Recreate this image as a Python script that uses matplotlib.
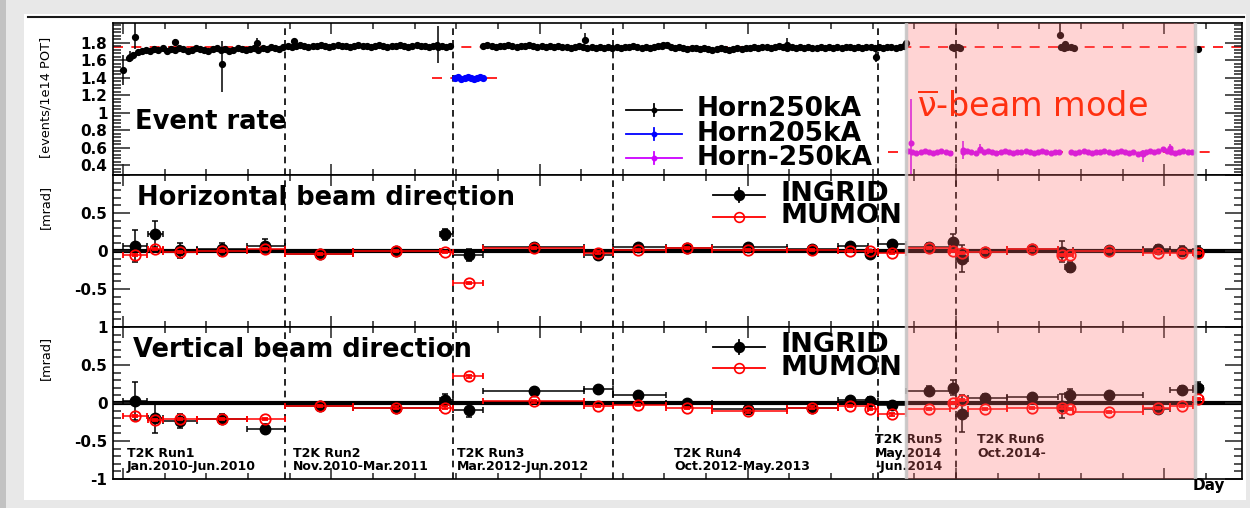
import numpy as np
import matplotlib
matplotlib.use("Agg")
import matplotlib.pyplot as plt
from matplotlib.patches import Rectangle
from matplotlib.lines import Line2D
from matplotlib.ticker import MultipleLocator, FixedLocator, FuncFormatter

plt.rcParams['font.family'] = ['DejaVu Sans']
plt.rcParams['font.weight'] = 'bold'

W, H = 1250, 508

# accumulated beam days on the x axis
day_min, day_max = -4.8, 537.3
run_edges = [77.8, 158.5, 235.3, 362.5, 400.0]
anti_start, anti_end = 376.0, 514.8

# ---- event rate [events/1e14 POT], one point every 2 days ----
run1_start = 3.0
run1_rate = [1.62, 1.66, 1.69, 1.71, 1.72, 1.70, 1.73, 1.72, 1.74, 1.71,
             1.73, 1.72, 1.74, 1.73, 1.71, 1.72, 1.74, 1.73, 1.72, 1.71,
             1.73, 1.74, 1.72, 1.73, 1.71, 1.72, 1.74, 1.73, 1.72, 1.73,
             1.74, 1.72, 1.74, 1.73, 1.75, 1.74, 1.73, 1.75]
run2_start = 79.0
run2_rate = [1.76, 1.75, 1.76, 1.77, 1.76, 1.75, 1.76, 1.76, 1.77, 1.76,
             1.75, 1.76, 1.77, 1.76, 1.76, 1.75, 1.76, 1.77, 1.76, 1.76,
             1.75, 1.76, 1.77, 1.76, 1.75, 1.76, 1.76, 1.77, 1.76, 1.75,
             1.76, 1.77, 1.76, 1.76, 1.75, 1.76, 1.77, 1.76, 1.75, 1.76]
run3_start = 173.0
run3_rate = [1.76, 1.77, 1.76, 1.75, 1.76, 1.76, 1.77, 1.76, 1.75, 1.76,
             1.76, 1.77, 1.76, 1.75, 1.76, 1.75, 1.76, 1.75, 1.76, 1.75,
             1.75, 1.74, 1.75, 1.76, 1.75, 1.74, 1.75, 1.74, 1.75, 1.74,
             1.75, 1.74]
run4_start = 237.0
run4_rate = [1.75, 1.74, 1.75, 1.75, 1.76, 1.75, 1.74, 1.75, 1.74, 1.75,
             1.76, 1.76, 1.77, 1.75, 1.74, 1.75, 1.74, 1.73, 1.74, 1.74,
             1.73, 1.74, 1.73, 1.72, 1.73, 1.74, 1.73, 1.72, 1.73, 1.74,
             1.73, 1.74, 1.74, 1.75, 1.74, 1.75, 1.75, 1.74, 1.75, 1.76,
             1.75, 1.74, 1.75, 1.74, 1.75, 1.74, 1.75, 1.74, 1.74, 1.75,
             1.74, 1.75, 1.74, 1.75, 1.74, 1.75, 1.75, 1.74, 1.75, 1.74,
             1.75, 1.75, 1.74]
run5_start = 363.0
run5_rate = [1.75, 1.74, 1.75, 1.75, 1.74, 1.75, 1.76]
horn205_start = 159.5
horn205_rate = [1.40, 1.41, 1.39, 1.40, 1.41, 1.40, 1.38, 1.40, 1.41, 1.40]

# 250kA days inside the antineutrino period
anti250_day = [398.0, 399.0, 400.0, 401.0, 402.0, 450.5, 452.0, 453.5, 455.0, 456.5, 516.3]
anti250_rate = [1.745, 1.74, 1.745, 1.75, 1.74, 1.745, 1.74, 1.745, 1.75, 1.74, 1.73]

# 250kA points with larger errors
odd_day = [0.0, 3.4, 5.8, 25.0, 47.5, 64.3, 82.1, 151.3, 221.8, 259.3, 318.8, 361.6, 376.0, 449.9, 452.4]
odd_rate = [1.49, 1.64, 1.87, 1.81, 1.56, 1.80, 1.82, 1.75, 1.83, 1.77, 1.77, 1.64, 1.80, 1.89, 1.78]
odd_lo = [0.17, 0.06, 0.14, 0.03, 0.33, 0.03, 0.02, 0.18, 0.03, 0.02, 0.02, 0.06, 0.02, 0.04, 0.02]
odd_hi = [0.17, 0.06, 0.16, 0.03, 0.26, 0.05, 0.02, 0.24, 0.08, 0.02, 0.08, 0.08, 0.02, 0.14, 0.02]

# Horn -250kA, three stretches
m250_starts = [377.0, 403.4, 455.2]
m250_rate = [
    [0.56, 0.55, 0.54, 0.55, 0.56, 0.55, 0.54, 0.55, 0.56, 0.55, 0.54],
    [0.55, 0.56, 0.55, 0.54, 0.57, 0.55, 0.56, 0.55, 0.54, 0.55, 0.56, 0.55,
     0.54, 0.55, 0.55, 0.56, 0.55, 0.54, 0.55, 0.56, 0.55, 0.54, 0.55, 0.55],
    [0.55, 0.54, 0.55, 0.56, 0.55, 0.54, 0.55, 0.55, 0.56, 0.55, 0.54, 0.55,
     0.56, 0.55, 0.54, 0.55, 0.53, 0.54, 0.55, 0.56, 0.55, 0.56, 0.58, 0.56,
     0.55, 0.54, 0.55, 0.56, 0.55, 0.55],
]
m250_odd_day = [378.2, 403.4, 411.5, 489.8, 502.8]
m250_odd_rate = [0.65, 0.57, 0.58, 0.53, 0.60]
m250_odd_lo = [0.37, 0.10, 0.02, 0.10, 0.02]
m250_odd_hi = [0.50, 0.10, 0.06, 0.04, 0.04]

# nominal rates (value, first day, last day)
nominal_250 = (1.75, day_min, day_max)
nominal_205 = (1.40, 148.4, 182.5)
nominal_m250 = (0.55, 367.4, 524.5)

# ---- beam direction [mrad], per period ----
dir_day = [5.8, 15.4, 27.4, 47.5, 68.2, 94.6, 131.1, 154.6, 166.1, 197.4,
           228.1, 247.3, 270.8, 300.1, 330.9, 349.1, 358.7, 369.3, 387.0, 398.6,
           402.9, 413.9, 436.5, 451.0, 454.7, 473.5, 497.0, 508.5, 516.3]
dir_lo = [0.0, 12.0, 19.2, 35.5, 59.5, 77.8, 110.4, 152.2, 158.5, 172.9,
          221.4, 235.3, 260.7, 282.8, 318.8, 343.3, 357.7, 362.5, 376.0, 397.1,
          400.0, 405.8, 424.5, 449.0, 452.4, 456.0, 489.8, 502.8, 513.8]
dir_hi = [11.5, 19.2, 35.5, 59.5, 77.8, 110.4, 152.2, 158.5, 172.9, 221.4,
          235.3, 260.7, 282.8, 318.8, 343.3, 357.7, 362.5, 376.0, 397.1, 400.0,
          405.8, 424.5, 449.0, 452.4, 456.0, 489.8, 502.8, 513.8, 518.5]

h_ingrid = [0.06, 0.22, 0.01, 0.02, 0.07, -0.04, 0.00, 0.22, -0.05, 0.05,
            -0.05, 0.05, 0.04, 0.05, 0.02, 0.06, -0.04, 0.09, 0.05, 0.12,
            -0.10, -0.01, 0.03, -0.01, -0.21, 0.01, 0.03, 0.00, -0.01]
h_ingrid_err = [0.21, 0.17, 0.10, 0.08, 0.09, 0.03, 0.03, 0.07, 0.08, 0.03,
                0.04, 0.03, 0.03, 0.03, 0.03, 0.04, 0.05, 0.04, 0.06, 0.10,
                0.18, 0.04, 0.03, 0.14, 0.07, 0.03, 0.05, 0.06, 0.07]
h_mumon = [-0.05, 0.03, -0.01, 0.00, 0.03, -0.04, 0.00, -0.01, -0.42, 0.04,
           -0.02, 0.01, 0.04, 0.01, 0.01, 0.00, 0.00, -0.02, 0.04, 0.00,
           -0.03, -0.01, 0.02, -0.05, -0.05, 0.00, -0.02, -0.03, -0.03]

v_ingrid = [0.02, -0.20, -0.24, -0.21, -0.34, -0.04, -0.06, 0.04, -0.09, 0.16,
            0.19, 0.10, 0.00, -0.08, -0.07, 0.04, 0.03, -0.03, 0.16, 0.20,
            -0.14, 0.07, 0.08, -0.04, 0.10, 0.10, -0.08, 0.17, 0.20]
v_ingrid_err = [0.25, 0.20, 0.09, 0.07, 0.06, 0.03, 0.03, 0.08, 0.09, 0.03,
                0.03, 0.03, 0.03, 0.03, 0.03, 0.04, 0.05, 0.04, 0.06, 0.10,
                0.24, 0.05, 0.03, 0.16, 0.08, 0.03, 0.04, 0.05, 0.08]
v_mumon = [-0.17, -0.22, -0.21, -0.21, -0.21, -0.04, -0.06, -0.06, 0.35, 0.02,
           -0.04, -0.03, -0.07, -0.11, -0.06, -0.04, -0.08, -0.15, -0.08, 0.00,
           0.04, -0.08, -0.07, -0.06, -0.08, -0.12, -0.07, -0.04, 0.05]
mumon_err = 0.015

run_labels = [
    (1.9, 456.7, ["T2K Run1", "Jan.2010-Jun.2010"]),
    (81.6, 456.7, ["T2K Run2", "Nov.2010-Mar.2011"]),
    (160.4, 456.7, ["T2K Run3", "Mar.2012-Jun.2012"]),
    (264.6, 456.7, ["T2K Run4", "Oct.2012-May.2013"]),
    (361.1, 443.3, ["T2K Run5", "May.2014", "-Jun.2014"]),
    (410.1, 443.3, ["T2K Run6", "Oct.2014-"]),
]

m250_color = '#cc00ff'


def every2(start, vals, step=2.0):
    return start + step * np.arange(len(vals))


fig = plt.figure(figsize=(W / 100, H / 100), dpi=100, facecolor='#e8e8e8')
fig.patches.append(Rectangle((0, 0), 6 / W, 1, transform=fig.transFigure,
                             facecolor='#c2c2c2', edgecolor='none', zorder=-5))
fig.patches.append(Rectangle((24 / W, 8 / H), (1246 - 24) / W, (500 - 14) / H,
                             transform=fig.transFigure, facecolor='white',
                             edgecolor='none', zorder=-4))
fig.add_artist(Line2D([28 / W, 1244 / W], [1 - 17 / H] * 2, color='#1a1a1a', lw=1.5))

L, Wd = 113 / W, (1242 - 113) / W


def panel(top, bot):
    return fig.add_axes([L, 1 - bot / H, Wd, (bot - top) / H])


ax1 = panel(23, 175)
ax2 = panel(175, 327)
ax3 = panel(327, 479)


def style(ax, ylo, yhi, major, minor, shown):
    ax.set_xlim(day_min, day_max)
    ax.set_ylim(ylo, yhi)
    ax.xaxis.set_major_locator(MultipleLocator(100))
    ax.xaxis.set_minor_locator(MultipleLocator(20))
    ax.yaxis.set_major_locator(FixedLocator(major))
    ax.yaxis.set_minor_locator(MultipleLocator(minor))
    ax.yaxis.set_major_formatter(FuncFormatter(
        lambda v, p: f"{v:g}" if any(abs(v - s) < 1e-9 for s in shown) else ""))
    ax.tick_params(which='both', direction='in', top=True, right=True,
                   labelbottom=False, width=1.1, color='#222222')
    ax.tick_params(axis='x', which='major', length=8)
    ax.tick_params(axis='x', which='minor', length=4)
    ax.tick_params(axis='y', which='major', length=12, labelsize=11, pad=4)
    ax.tick_params(axis='y', which='minor', length=6)
    for s in ax.spines.values():
        s.set_linewidth(1.2)
    for e in run_edges:
        ax.axvline(e, color='k', ls=(0, (4, 3)), lw=1.2, zorder=2)


rate_ticks = [0.4, 0.6, 0.8, 1.0, 1.2, 1.4, 1.6, 1.8]
style(ax1, 0.286, 2.025, rate_ticks, 0.04, rate_ticks)
style(ax2, -1, 1, [-1, -0.5, 0, 0.5, 1], 0.1, [-0.5, 0, 0.5])
style(ax3, -1, 1, [-1, -0.5, 0, 0.5, 1], 0.1, [-1, -0.5, 0, 0.5, 1])

ax1.set_ylabel('[events/1e14 POT]', fontsize=9.3)
ax1.yaxis.set_label_coords(-0.054, 0.51)
ax2.set_ylabel('[mrad]', fontsize=9.3)
ax2.yaxis.set_label_coords(-0.054, 0.793)
ax3.set_ylabel('[mrad]', fontsize=9.3)
ax3.yaxis.set_label_coords(-0.054, 0.795)

# event rate
for val, x0, x1 in [nominal_250, nominal_205, nominal_m250]:
    ax1.hlines(val, x0, x1, colors='red', linestyles=(0, (6, 5)), lw=1.2, zorder=1)

for start, vals in [(run1_start, run1_rate), (run2_start, run2_rate), (run3_start, run3_rate),
                    (run4_start, run4_rate), (run5_start, run5_rate)]:
    ax1.errorbar(every2(start, vals), vals, yerr=0.015, fmt='o', ms=4.2, color='k',
                 elinewidth=0.8, capsize=0, zorder=3)
ax1.errorbar(anti250_day, anti250_rate, yerr=0.015, fmt='o', ms=4.2, color='k',
             elinewidth=0.8, capsize=0, zorder=3)
ax1.errorbar(odd_day, odd_rate, yerr=[odd_lo, odd_hi], fmt='o', ms=4.2, color='k',
             elinewidth=1.1, capsize=0, zorder=3)
ax1.errorbar(every2(horn205_start, horn205_rate, 1.5), horn205_rate, yerr=0.015, fmt='o',
             ms=4.2, color='#0000ff', elinewidth=0.8, capsize=0, zorder=3)
for start, vals in zip(m250_starts, m250_rate):
    ax1.errorbar(every2(start, vals), vals, yerr=0.012, fmt='o', ms=3.4, color=m250_color,
                 elinewidth=0.8, capsize=0, zorder=3)
ax1.errorbar(m250_odd_day, m250_odd_rate, yerr=[m250_odd_lo, m250_odd_hi], fmt='o', ms=3.4,
             color=m250_color, elinewidth=1.1, capsize=0, zorder=3)

# beam direction
x = np.array(dir_day)
xerr = [x - np.array(dir_lo), np.array(dir_hi) - x]
for ax, ing, ing_err, mum in [(ax2, h_ingrid, h_ingrid_err, h_mumon),
                              (ax3, v_ingrid, v_ingrid_err, v_mumon)]:
    ax.axhline(0, color='k', lw=3, zorder=1)
    ax.errorbar(x, ing, yerr=ing_err, xerr=xerr, fmt='o', ms=7.5, color='k',
                elinewidth=1.1, capsize=2.5, capthick=1.1, zorder=3)
    ax.errorbar(x, mum, yerr=mumon_err, xerr=xerr, fmt='o', ms=7.5, mfc='none', mec='red',
                mew=1.3, color='red', elinewidth=1.1, capsize=2.5, capthick=1.1, zorder=4)

# overlay layer: titles, legends and the antineutrino period (y in pixels)
deco = fig.add_axes([L, 1 - 479 / H, Wd, (479 - 23) / H], zorder=10)
deco.set_xlim(day_min, day_max)
deco.set_ylim(479, 23)
deco.axis('off')

deco.text(5.8, 129.3, 'Event rate', fontsize=18.5, va='baseline', zorder=2)
deco.text(6.7, 205.0, 'Horizontal beam direction', fontsize=18.5, va='baseline', zorder=2)
deco.text(4.8, 356.7, 'Vertical beam direction', fontsize=18.5, va='baseline', zorder=2)


def legend_mark(x0, x1, y, color, bar, marker, ms, mfc):
    xm = (x0 + x1) / 2
    deco.plot([x0, x1], [y, y], color=color, lw=1.3, zorder=2)
    if bar:
        deco.plot([xm, xm], [y - bar, y + bar], color=color, lw=1.3, zorder=2)
    deco.plot([xm], [y], marker=marker, ms=ms, mfc=mfc, mec=color, mew=1.2, zorder=2)


legend_mark(241.5, 268.4, 110, 'k', 6, 'o', 3, 'k')
legend_mark(241.5, 268.4, 134, '#0000ff', 6, 'o', 3, '#0000ff')
legend_mark(241.5, 268.4, 158, m250_color, 6, 'o', 3, m250_color)
# multi-line texts sit on the baseline of their last line
deco.text(275.6, 165.3, 'Horn250kA\nHorn205kA\nHorn-250kA', fontsize=19,
          va='baseline', linespacing=0.94, zorder=2)
for y0 in (195, 346.7):
    legend_mark(283.3, 308.3, y0, 'k', 7, 'o', 7, 'k')
    legend_mark(283.3, 308.3, y0 + 21.5, 'red', 0, 'o', 7, 'none')
    deco.text(315.5, y0 + 28.2, 'INGRID\nMUMON', fontsize=19.5, va='baseline',
              linespacing=0.82, zorder=2)

for xd, yb, lines in run_labels:
    for i, s in enumerate(lines):
        deco.text(xd, yb + 13.3 * i, s, fontsize=9, va='baseline', zorder=2)
deco.text(513.8, 490, 'Day', fontsize=11, va='baseline', zorder=2)

deco.axvspan(anti_start, anti_end, color=(1.0, 0.43, 0.43), alpha=0.29, lw=0, zorder=5)
for e in (anti_start, anti_end):
    deco.axvline(e, color='#c4c4c4', lw=2.5, alpha=0.85, zorder=5)
deco.text(381.3, 116.7, r'$\overline{\mathregular{ν}}$-beam mode', fontsize=24,
          fontweight='normal', color='#ff3010', va='baseline', zorder=6)

fig.savefig('out.png', dpi=100, facecolor=fig.get_facecolor())
